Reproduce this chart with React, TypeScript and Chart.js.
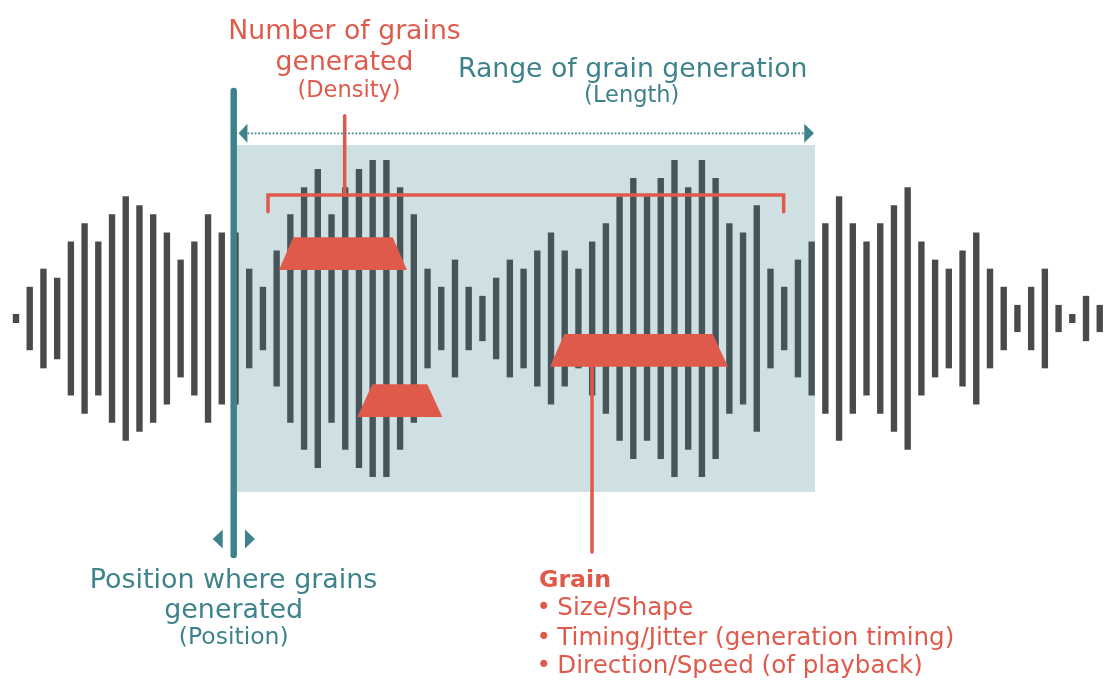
import React, { useEffect, useRef } from 'react';
import { Chart, registerables } from 'chart.js';

Chart.register(...registerables);

// Half-amplitude of each waveform bar (bar spans -a .. +a)
const amplitudes = [
  1, 7, 11, 9, 17, 21, 17, 23, 27, 25,
  23, 19, 13, 17, 23, 19, 19, 11, 7, 15,
  23, 29, 33, 23, 29, 33, 35, 35, 29, 23,
  11, 7, 13, 7, 5, 9, 13, 11, 15, 19,
  15, 11, 17, 21, 27, 31, 27, 31, 35, 29,
  35, 31, 21, 19, 25, 11, 7, 13, 17, 21,
  27, 21, 17, 21, 25, 29, 17, 13, 11, 15,
  19, 11, 7, 3, 7, 11, 3, 1, 5, 3,
];

// Annotation parameters in data units (x = bar index, y = amplitude)
const positionIndex = 15.87;
const lengthRange = [16.11, 58.24];
const regionHalfHeight = 38.3;
const densityBracket = { x0: 18.37, x1: 55.96, stem: 23.96, y: 27.26, yEnd: 23.58, yTop: 44.77 };
// grains: [topLeft, topRight, bottomLeft, bottomRight, topY, bottomY]
const grains = [
  [20.21, 27.46, 19.17, 28.5, 17.93, 10.71],
  [25.97, 29.98, 24.88, 31.08, -14.53, -21.74],
  [39.97, 50.79, 38.93, 51.9, -3.42, -10.64],
];
const grainStem = { x: 41.99, yBottom: -51.55 };

const topTitle = ['Number of grains', 'generated'];
const topSub = '(Density)';
const rangeTitle = 'Range of grain generation';
const rangeSub = '(Length)';
const posTitle = ['Position where grains', 'generated'];
const posSub = '(Position)';
const grainTitle = 'Grain';
const grainBullets = ['Size/Shape', 'Timing/Jitter (generation timing)', 'Direction/Speed (of playback)'];

const RED = '#e05a4c';
const TEAL = '#3e838b';
const REGION = '#cfe0e3';
const BAR_OUT = '#4a4a4a';
const BAR_IN = '#46555a';
const FONT = '"DejaVu Sans", sans-serif';

export default function App() {
  const ref = useRef<HTMLCanvasElement>(null);
  useEffect(() => {
    const canvas = ref.current!;
    const overlay = {
      id: 'overlay',
      beforeDatasetsDraw(chart: any) {
        const ctx = chart.ctx;
        const X = (v: number) => chart.scales.x.getPixelForValue(v);
        const Y = (v: number) => chart.scales.y.getPixelForValue(v);
        ctx.save();
        ctx.fillStyle = REGION;
        const x0 = X(lengthRange[0]);
        const x1 = X(lengthRange[1]);
        const y0 = Y(regionHalfHeight);
        const y1 = Y(-regionHalfHeight);
        ctx.fillRect(x0, y0, x1 - x0, y1 - y0);
        ctx.restore();
      },
      afterDatasetsDraw(chart: any) {
        const ctx = chart.ctx;
        const X = (v: number) => chart.scales.x.getPixelForValue(v);
        const Y = (v: number) => chart.scales.y.getPixelForValue(v);
        ctx.save();
        // grains (trapezoids)
        ctx.fillStyle = RED;
        for (const g of grains) {
          ctx.beginPath();
          ctx.moveTo(X(g[0]), Y(g[4]));
          ctx.lineTo(X(g[1]), Y(g[4]));
          ctx.lineTo(X(g[3]), Y(g[5]));
          ctx.lineTo(X(g[2]), Y(g[5]));
          ctx.closePath();
          ctx.fill();
        }
        // density bracket
        ctx.strokeStyle = RED;
        ctx.lineWidth = 3.5;
        ctx.lineCap = 'round';
        ctx.lineJoin = 'miter';
        ctx.beginPath();
        ctx.moveTo(X(densityBracket.x0), Y(densityBracket.yEnd));
        ctx.lineTo(X(densityBracket.x0), Y(densityBracket.y));
        ctx.lineTo(X(densityBracket.x1), Y(densityBracket.y));
        ctx.lineTo(X(densityBracket.x1), Y(densityBracket.yEnd));
        ctx.stroke();
        ctx.beginPath();
        ctx.moveTo(X(densityBracket.stem), Y(densityBracket.y));
        ctx.lineTo(X(densityBracket.stem), Y(densityBracket.yTop));
        ctx.stroke();
        // grain stem
        ctx.beginPath();
        ctx.moveTo(X(grainStem.x), Y(grains[2][5]));
        ctx.lineTo(X(grainStem.x), Y(grainStem.yBottom));
        ctx.stroke();
        // position line
        ctx.strokeStyle = TEAL;
        ctx.lineWidth = 6.5;
        ctx.beginPath();
        ctx.moveTo(X(positionIndex), Y(50.2));
        ctx.lineTo(X(positionIndex), Y(-52.2));
        ctx.stroke();
        // position arrows
        ctx.fillStyle = TEAL;
        const ay = Y(-48.68);
        const tri = (tip: number, base: number, y: number, h: number) => {
          ctx.beginPath();
          ctx.moveTo(tip, y);
          ctx.lineTo(base, y - h);
          ctx.lineTo(base, y + h);
          ctx.closePath();
          ctx.fill();
        };
        tri(X(14.34), X(15.07), ay, 9.5);
        tri(X(17.42), X(16.69), ay, 9.5);
        // length arrow
        const ly = Y(40.88);
        ctx.strokeStyle = TEAL;
        ctx.lineWidth = 1.8;
        ctx.lineCap = 'butt';
        ctx.setLineDash([1.8, 1.8]);
        ctx.beginPath();
        ctx.moveTo(X(16.87), ly);
        ctx.lineTo(X(57.46), ly);
        ctx.stroke();
        ctx.setLineDash([]);
        tri(X(lengthRange[0] + 0.11), X(16.87), ly, 9.5);
        tri(X(58.17), X(57.46), ly, 9.5);

        // texts
        ctx.textBaseline = 'alphabetic';
        ctx.textAlign = 'center';
        ctx.fillStyle = RED;
        ctx.font = `26.7px ${FONT}`;
        ctx.fillText(topTitle[0], 344.5, 39.3);
        ctx.fillText(topTitle[1], 344.5, 70);
        ctx.font = `22.5px ${FONT}`;
        ctx.fillText(topSub, 349, 96.7);

        ctx.fillStyle = TEAL;
        ctx.font = `26.7px ${FONT}`;
        ctx.fillText(rangeTitle, 632.7, 76.7);
        ctx.font = `22.5px ${FONT}`;
        ctx.fillText(rangeSub, 631.7, 102);

        ctx.font = `26.9px ${FONT}`;
        ctx.fillText(posTitle[0], 233.5, 588.3);
        ctx.fillText(posTitle[1], 233.7, 618.3);
        ctx.font = `23.5px ${FONT}`;
        ctx.fillText(posSub, 233.7, 643.5);

        ctx.textAlign = 'left';
        ctx.fillStyle = RED;
        ctx.font = `bold 23.7px ${FONT}`;
        ctx.fillText(grainTitle, 539, 587.3);
        ctx.font = `24.6px ${FONT}`;
        const by = [615, 645, 673.3];
        grainBullets.forEach((t, i) => {
          ctx.fillText('\u2022', 536.5, by[i]);
          ctx.fillText(t, 557.3, by[i]);
        });
        ctx.restore();
      },
    };

    const chart = new Chart(canvas, {
      type: 'bar',
      data: {
        datasets: [
          {
            data: amplitudes.map((a, i) => ({ x: i, y: [-a, a] })) as any,
            backgroundColor: amplitudes.map((_, i) =>
              i > lengthRange[0] && i < lengthRange[1] ? BAR_IN : BAR_OUT
            ),
            borderWidth: 0,
            barPercentage: 0.465,
            categoryPercentage: 1,
          },
        ],
      },
      options: {
        responsive: false,
        animation: false,
        layout: { padding: 0 },
        plugins: { legend: { display: false }, tooltip: { enabled: false } },
        scales: {
          x: { type: 'linear', min: -1.1664, max: 79.603, display: false, offset: false, grid: { offset: false } },
          y: { type: 'linear', min: -79.8, max: 70.309, display: false },
        },
      },
      plugins: [overlay],
    });
    return () => chart.destroy();
  }, []);
  return (
    <div style={{ position: 'fixed', left: 0, top: 0, width: 1108, height: 680, background: '#fff' }}>
      <canvas ref={ref} width={1108} height={680} />
    </div>
  );
}
